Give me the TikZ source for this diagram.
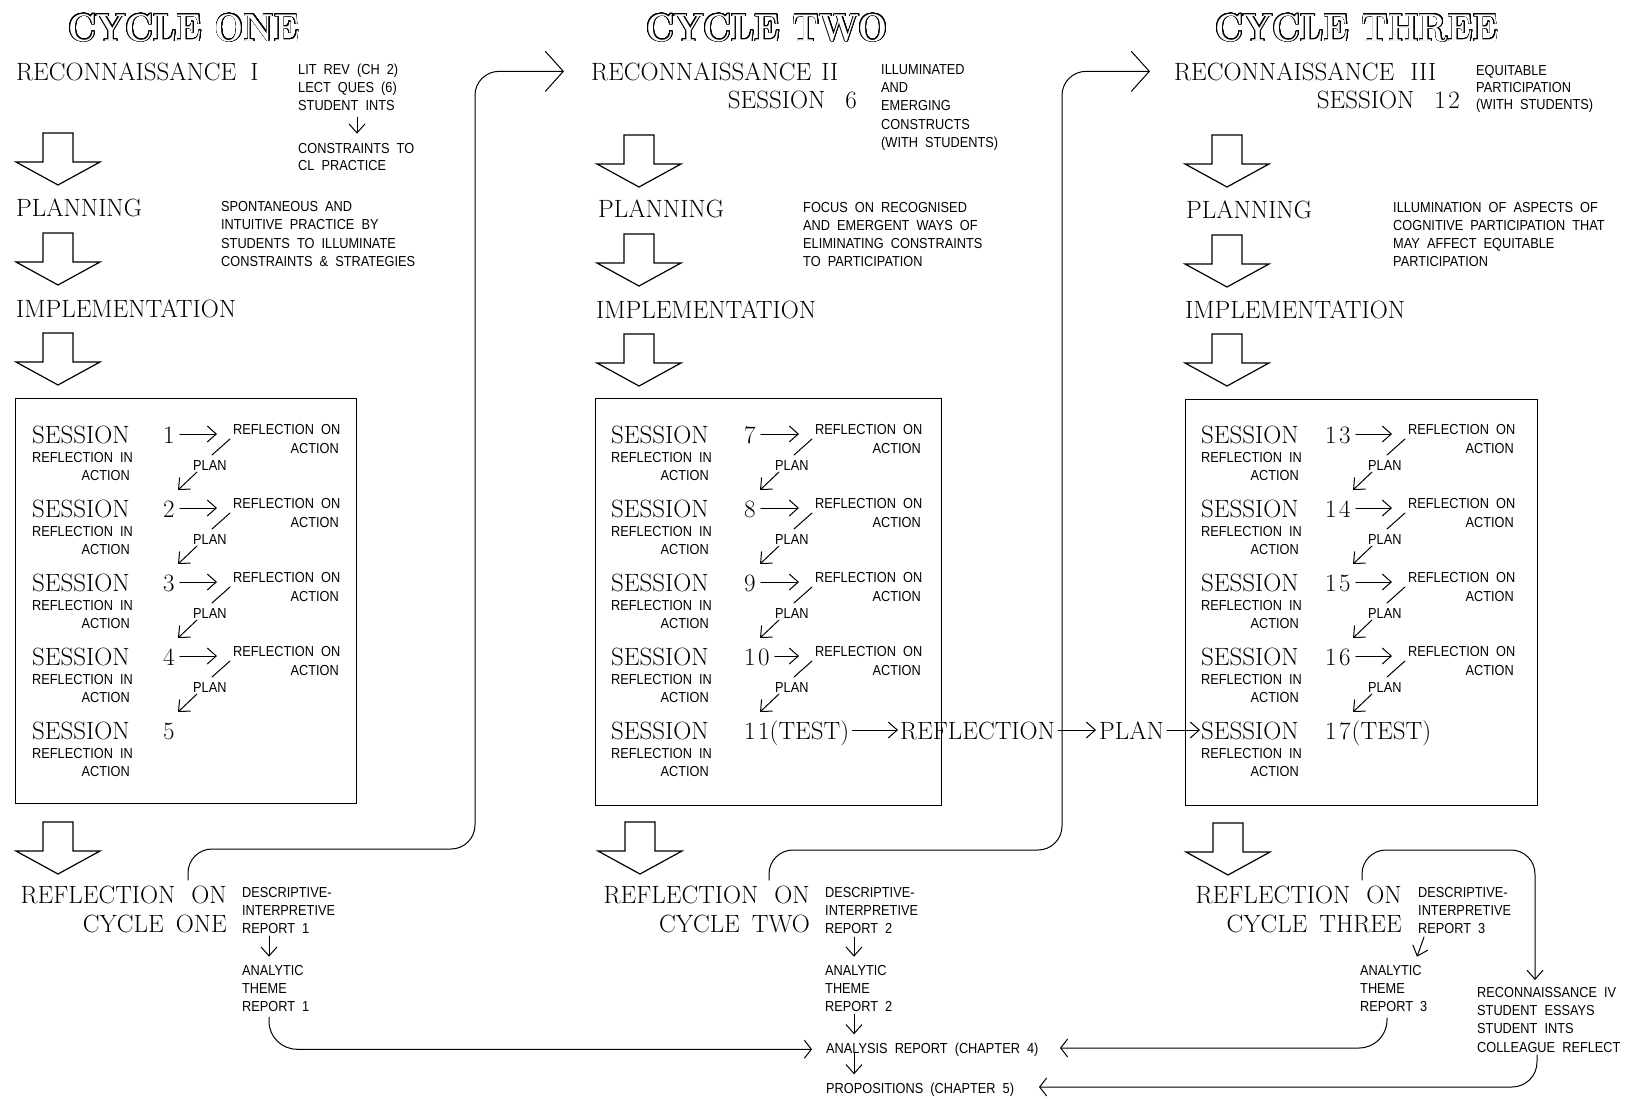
\documentclass[tikz,border=0pt]{standalone}
\usepackage{fontspec}
\usepackage{contour}
\usetikzlibrary{arrows.meta}
\newfontfamily\smf[FakeStretch=0.88,WordSpace=2.0]{Liberation Sans}
\contourlength{0.7pt}
\contournumber{32}
\newcommand\smline[4]{\node[sm,anchor=base west] (#1) at (#2,#3) {#4};}
\newcommand\bigline[4]{\node[big,anchor=base west] (#1) at (#2,#3) {#4};}
\def\twodig#1#2\relax{#1\kern2.5pt#2}
\newcommand\numtxt[1]{\ifnum#1>9 \expandafter\twodig#1\relax\else#1\fi}
\newcommand\ttltext[1]{\contour{black}{\scalebox{0.88}[1]{\bfseries #1}}}
\begin{document}
\begin{tikzpicture}[x=1pt,y=-1pt,
  big/.style={font=\fontsize{25}{30}\selectfont,inner sep=0pt},
  ttl/.style={font=\fontsize{39}{45}\selectfont,inner sep=0pt,text=white},
  sm/.style={font=\smf\fontsize{14.5}{18}\selectfont,inner sep=0pt},
  ln/.style={line width=1pt,line cap=round,line join=round},
  frm/.style={draw,line width=1.3pt,inner sep=0pt,anchor=north west},
  bigtip/.style={-{Straight Barb[length=18pt,width=40pt]}},
  smtip/.style={-{Straight Barb[length=9pt,width=16pt]}},
  sidetip/.style={-{Straight Barb[length=7pt,width=18pt]}},
  bigarr/.pic={\draw[line width=1.2pt,line join=miter] (-15,0) -- (15,0) -- (15,29) -- (42,29) -- (0,52) -- (-42,29) -- (-15,29) -- cycle;}
]
\fill[white] (0,0) rectangle (1625,1098);
\useasboundingbox (0,0) rectangle (1625,1098);

% ---------------- Cycle one, top
\node[ttl,anchor=base] (t1) at (184,41) {\ttltext{CYCLE ONE}};
\bigline{rec1}{16}{80}{RECONNAISSANCE\hspace{14pt}I}
\smline{lr1}{298}{74}{LIT REV (CH 2)}
\smline{lr2}{298}{92}{LECT QUES (6)}
\smline{lr3}{298}{110}{STUDENT INTS}
\smline{cs1}{298}{153}{CONSTRAINTS TO}
\smline{cs2}{298}{170}{CL PRACTICE}
\draw[ln,smtip] ([shift={(59pt,-7pt)}]lr3.base west) -- ([shift={(59pt,9pt)}]cs1.north west);
\pic (a11) at (58,133) {bigarr};
\bigline{pl1}{16}{216}{PLANNING}
\smline{ps1}{221}{211}{SPONTANEOUS AND}
\smline{ps2}{221}{229}{INTUITIVE PRACTICE BY}
\smline{ps3}{221}{248}{STUDENTS TO ILLUMINATE}
\smline{ps4}{221}{266}{CONSTRAINTS \& STRATEGIES}
\pic (a12) at (58,233) {bigarr};
\bigline{im1}{16}{317}{IMPLEMENTATION}
\pic (a13) at (58,333) {bigarr};
\node[frm,minimum width=341pt,minimum height=405pt] (box1) at (15,398) {};

% ---------------- Cycle two, top
\node[ttl,anchor=base] (t2) at (767,41) {\ttltext{CYCLE TWO}};
\bigline{rec2}{591}{80}{RECONNAISSANCE\hspace{10pt}II}
\node[big,anchor=base east] (ses6) at (857,108) {SESSION\hspace{20pt}6};
\smline{il1}{881}{74}{ILLUMINATED}
\smline{il2}{881}{92}{AND}
\smline{il3}{881}{110}{EMERGING}
\smline{il4}{881}{129}{CONSTRUCTS}
\smline{il5}{881}{147}{(WITH STUDENTS)}
\pic (a21) at (639,135) {bigarr};
\bigline{pl2}{598}{217}{PLANNING}
\smline{fo1}{803}{212}{FOCUS ON RECOGNISED}
\smline{fo2}{803}{230}{AND EMERGENT WAYS OF}
\smline{fo3}{803}{248}{ELIMINATING CONSTRAINTS}
\smline{fo4}{803}{266}{TO PARTICIPATION}
\pic (a22) at (639,234) {bigarr};
\bigline{im2}{596}{318}{IMPLEMENTATION}
\pic (a23) at (639,334) {bigarr};
\node[frm,minimum width=346pt,minimum height=407pt] (box2) at (595,398) {};

% ---------------- Cycle three, top
\node[ttl,anchor=base] (t3) at (1357,41) {\ttltext{CYCLE THREE}};
\bigline{rec3}{1174}{80}{RECONNAISSANCE\hspace{16pt}III}
\node[big,anchor=base east] (ses12) at (1460,108) {SESSION\hspace{20pt}1\kern2.5pt2};
\smline{eq1}{1476}{75}{EQUITABLE}
\smline{eq2}{1476}{92}{PARTICIPATION}
\smline{eq3}{1476}{109}{(WITH STUDENTS)}
\pic (a31) at (1227,135) {bigarr};
\bigline{pl3}{1186}{218}{PLANNING}
\smline{cg1}{1393}{212}{ILLUMINATION OF ASPECTS OF}
\smline{cg2}{1393}{230}{COGNITIVE PARTICIPATION THAT}
\smline{cg3}{1393}{248}{MAY AFFECT EQUITABLE}
\smline{cg4}{1393}{266}{PARTICIPATION}
\pic (a32) at (1227,235) {bigarr};
\bigline{im3}{1185}{318}{IMPLEMENTATION}
\pic (a33) at (1227,334) {bigarr};
\node[frm,minimum width=352pt,minimum height=406pt] (box3) at (1185,399) {};

% ---------------- Session rows
\foreach \cc/\sx/\dd/\mm/\nx in {1/32/0/1/131,2/611/3/7/133,3/1201/6/13/124}{
  \foreach \kk in {0,1,2,3}{
    \pgfmathtruncatemacro\num{\mm+\kk}
    \pgfmathsetmacro\yb{443+74*\kk}
    \node[big,anchor=base west] (s\cc\kk) at (\sx,\yb) {SESSION};
    \node[big,anchor=base west] (n\cc\kk) at (\sx+\nx,\yb) {\numtxt{\num}};
    \node[sm,anchor=base west] (ro\cc\kk) at (\sx+201+\dd,\yb-9) {REFLECTION ON};
    \node[sm,anchor=base east] (oa\cc\kk) at (\sx+307+\dd,\yb+10) {ACTION};
    \node[sm,anchor=base west] (ri\cc\kk) at (\sx,\yb+19) {REFLECTION IN};
    \node[sm,anchor=base east] (ia\cc\kk) at (\sx+98,\yb+37) {ACTION};
    \node[sm,anchor=base west] (p\cc\kk) at (\sx+161+\dd,\yb+27) {PLAN};
    \draw[ln,smtip] ([shift={(5pt,9pt)}]n\cc\kk.base east) -- ([xshift=-16pt]ro\cc\kk.base west);
    \draw[ln] ([shift={(-3pt,-5pt)}]ro\cc\kk.base west) -- ([shift={(-21pt,-21pt)}]ro\cc\kk.base west);
    \draw[ln,smtip] ([shift={(4pt,-2pt)}]p\cc\kk.base west) -- ([shift={(-15pt,-20pt)}]p\cc\kk.base west);
  }
  \node[big,anchor=base west] (s\cc4) at (\sx,739) {SESSION};
  \node[sm,anchor=base west] (ri\cc4) at (\sx,758) {REFLECTION IN};
  \node[sm,anchor=base east] (ia\cc4) at (\sx+98,776) {ACTION};
}
\node[big,anchor=base west] (n14) at (163,739) {5};
\node[big,anchor=base west] (n24) at (744,739) {1\kern2.5pt1(TEST)};
\node[big,anchor=base west] (rfl) at (900,739) {REFLECTION};
\node[big,anchor=base west] (pln) at (1099,739) {PLAN};
\node[big,anchor=base west] (n34) at (1325,739) {1\kern2.5pt7\kern1pt(TEST)};
\draw[ln,smtip] ([shift={(3pt,9pt)}]n24.base east) -- ([shift={(-2pt,9pt)}]rfl.base west);
\draw[ln,smtip] ([shift={(3pt,9pt)}]rfl.base east) -- ([shift={(-3pt,9pt)}]pln.base west);
\draw[ln,smtip] ([shift={(3pt,9pt)}]pln.base east) -- ([shift={(-1pt,9pt)}]s34.base west);

% ---------------- Bottom
\pic (a14) at (58,822) {bigarr};
\pic (a24) at (640,822) {bigarr};
\pic (a34) at (1228,823) {bigarr};
\node[big,anchor=base east] (rc1) at (227,903) {REFLECTION\hspace{16pt}ON};
\node[big,anchor=base east] (cc1) at (227,932) {CYCLE\hspace{12pt}ONE};
\node[big,anchor=base east] (rc2) at (810,903) {REFLECTION\hspace{16pt}ON};
\node[big,anchor=base east] (cc2) at (810,932) {CYCLE\hspace{12pt}TWO};
\node[big,anchor=base east] (rc3) at (1402,903) {REFLECTION\hspace{16pt}ON};
\node[big,anchor=base east] (cc3) at (1402,932) {CYCLE\hspace{12pt}THREE};

\smline{d1a}{242}{897}{DESCRIPTIVE-}
\smline{d1b}{242}{915}{INTERPRETIVE}
\smline{d1c}{242}{933}{REPORT 1}
\smline{h1a}{242}{975}{ANALYTIC}
\smline{h1b}{242}{993}{THEME}
\smline{h1c}{242}{1011}{REPORT 1}
\draw[ln,smtip] ([shift={(27pt,-3pt)}]d1c.base west) -- ([shift={(27pt,8pt)}]h1a.north west);

\smline{d2a}{825}{897}{DESCRIPTIVE-}
\smline{d2b}{825}{915}{INTERPRETIVE}
\smline{d2c}{825}{933}{REPORT 2}
\smline{h2a}{825}{975}{ANALYTIC}
\smline{h2b}{825}{993}{THEME}
\smline{h2c}{825}{1011}{REPORT 2}
\smline{an}{826}{1053}{ANALYSIS REPORT (CHAPTER 4)}
\smline{pr}{826}{1093}{PROPOSITIONS (CHAPTER 5)}
\draw[ln,smtip] ([shift={(29pt,-4pt)}]d2c.base west) -- ([shift={(29pt,8pt)}]h2a.north west);
\draw[ln,smtip] ([shift={(29pt,-3pt)}]h2c.base west) -- ([shift={(28pt,8pt)}]an.north west);
\draw[ln,smtip] ([shift={(28pt,0pt)}]an.base west) -- ([shift={(28pt,8pt)}]pr.north west);

\smline{d3a}{1418}{897}{DESCRIPTIVE-}
\smline{d3b}{1418}{915}{INTERPRETIVE}
\smline{d3c}{1418}{933}{REPORT 3}
\smline{h3a}{1360}{975}{ANALYTIC}
\smline{h3b}{1360}{993}{THEME}
\smline{h3c}{1360}{1011}{REPORT 3}
\draw[ln,smtip] ([shift={(6pt,-4pt)}]d3c.base west) -- ([shift={(57pt,8pt)}]h3a.north west);
\smline{r4a}{1477}{997}{RECONNAISSANCE IV}
\smline{r4b}{1477}{1015}{STUDENT ESSAYS}
\smline{r4c}{1477}{1033}{STUDENT INTS}
\smline{r4d}{1477}{1052}{COLLEAGUE REFLECT}

% ---------------- Long connectors
\coordinate (c1s) at (188,880);
\draw[ln,bigtip,rounded corners=24pt] (c1s) |- (475,849) |- ([xshift=-27pt]rec2.west);
\coordinate (c2s) at (769,880);
\draw[ln,bigtip,rounded corners=24pt] (c2s) |- (1062,850) |- ([xshift=-24pt]rec3.west);
\coordinate (c3s) at (1362,880);
\coordinate (c3e) at (1535,980);
\draw[ln,smtip,rounded corners=24pt] (c3s) |- (1535,850) -- (c3e);
\coordinate (c4s) at (269,1017);
\draw[ln,sidetip,rounded corners=28pt] (c4s) |- ([xshift=-14pt]an.west);
\coordinate (c5s) at (1387,1018);
\coordinate (c5e) at (1060,1048);
\draw[ln,sidetip,rounded corners=28pt] (c5s) |- (c5e);
\coordinate (c6s) at (1537,1055);
\coordinate (c6e) at (1039,1087);
\draw[ln,sidetip,rounded corners=25pt] (c6s) |- (c6e);
\end{tikzpicture}
\end{document}
